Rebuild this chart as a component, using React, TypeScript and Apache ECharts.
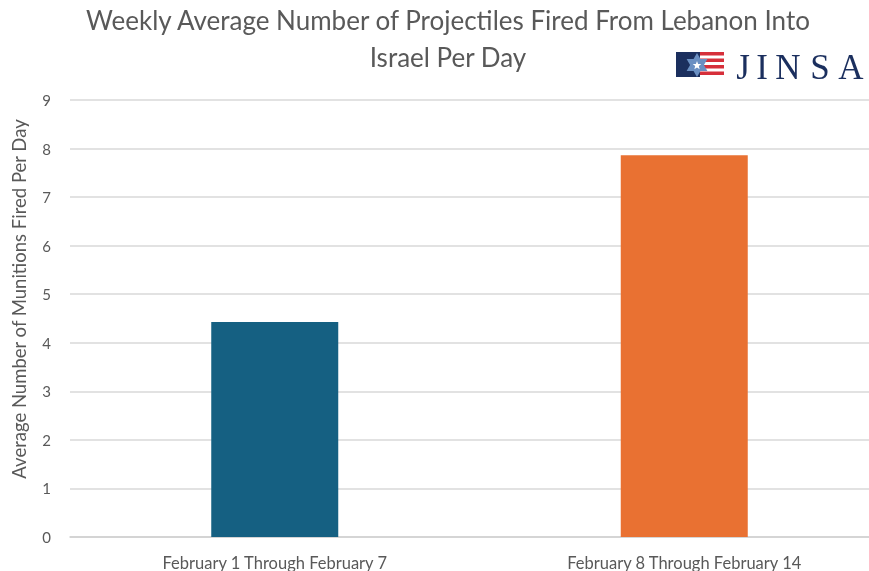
import React, { useEffect, useRef } from "react";
import * as echarts from "echarts";

const categories = ["February 1 Through February 7", "February 8 Through February 14"];
const values = [4.43, 7.86];
const barColors = ["#156082", "#E97132"];
const titleLines = ["Weekly Average Number of Projectiles Fired From Lebanon Into", "Israel Per Day"];
const yAxisName = "Average Number of Munitions Fired Per Day";
const logoLetters = ["J", "I", "N", "S", "A"];
const logoLetterX = [743, 762, 788, 820, 851];

export default function App() {
  const ref = useRef<HTMLDivElement>(null);
  useEffect(() => {
    document.body.style.margin = "0";
    document.body.style.overflow = "hidden";
    const chart = echarts.init(ref.current!, null, { renderer: "svg" });
    const font = "Lato";
    const gray = "#595959";
    const navy = "#1B2F5E";
    const red = "#D62F3A";
    const lightBlue = "#6A8FC2";
    const hex = (cx: number, cy: number, r: number, rot: number) => {
      const pts: number[][] = [];
      for (let i = 0; i < 3; i++) {
        const a = rot + (i * 2 * Math.PI) / 3;
        pts.push([cx + r * Math.sin(a), cy - r * Math.cos(a)]);
      }
      return pts;
    };
    const star5 = (cx: number, cy: number, ro: number, ri: number) => {
      const pts: number[][] = [];
      for (let i = 0; i < 10; i++) {
        const r = i % 2 === 0 ? ro : ri;
        const a = (i * Math.PI) / 5;
        pts.push([cx + r * Math.sin(a), cy - r * Math.cos(a)]);
      }
      return pts;
    };
    const stripes = [52, 58.5, 65, 71.5].map((y) => ({
      type: "rect",
      shape: { x: 700, y, width: 24, height: 3.5 },
      style: { fill: red },
    }));
    chart.setOption({
      animation: false,
      grid: { left: 70, right: 0, top: 100, bottom: 34 },
      title: [
        {
          text: titleLines.join("\n"),
          left: 443,
          textAlign: "center",
          top: -4,
          textStyle: { fontFamily: font, fontSize: 26, fontWeight: "normal", color: gray, lineHeight: 37 },
        },
      ],
      xAxis: {
        type: "category",
        data: categories,
        axisLine: { lineStyle: { color: "#D0D0D0", width: 1.5 } },
        axisTick: { show: false },
        axisLabel: { color: gray, fontFamily: font, fontSize: 16.5, margin: 17 },
      },
      yAxis: {
        type: "value",
        min: 0,
        max: 9,
        interval: 1,
        axisLine: { show: false },
        axisTick: { show: false },
        axisLabel: { color: gray, fontFamily: font, fontSize: 15, margin: 19 },
        splitLine: { lineStyle: { color: "#D9D9D9", width: 1.5 } },
      },
      series: [
        {
          type: "bar",
          barWidth: 127,
          data: values.map((v, i) => ({ value: v, itemStyle: { color: barColors[i] } })),
        },
      ],
      graphic: [
        {
          type: "text",
          x: 19,
          y: 299,
          rotation: Math.PI / 2,
          style: {
            text: yAxisName,
            fill: gray,
            font: `18.5px ${font}`,
            align: "center",
            verticalAlign: "middle",
          },
        },
        { type: "rect", shape: { x: 676, y: 52, width: 24, height: 25 }, style: { fill: navy } },
        ...stripes,
        { type: "polygon", shape: { points: hex(697, 65, 12, 0) }, style: { fill: lightBlue } },
        { type: "polygon", shape: { points: hex(697, 65, 12, Math.PI) }, style: { fill: lightBlue } },
        { type: "polygon", shape: { points: star5(697, 65.5, 4.5, 1.9) }, style: { fill: "#ffffff" } },
        ...logoLetters.map((ch, i) => ({
          type: "text",
          x: logoLetterX[i],
          y: 67,
          style: {
            text: ch,
            fill: navy,
            font: "35px 'Liberation Serif'",
            align: "center",
            verticalAlign: "middle",
          },
        })),
      ],
    });
    return () => chart.dispose();
  }, []);
  return (
    <div style={{ position: "fixed", left: 0, top: 0, width: 869, height: 571, overflow: "hidden" }}>
      <div ref={ref} style={{ width: 889, height: 571 }} />
    </div>
  );
}
